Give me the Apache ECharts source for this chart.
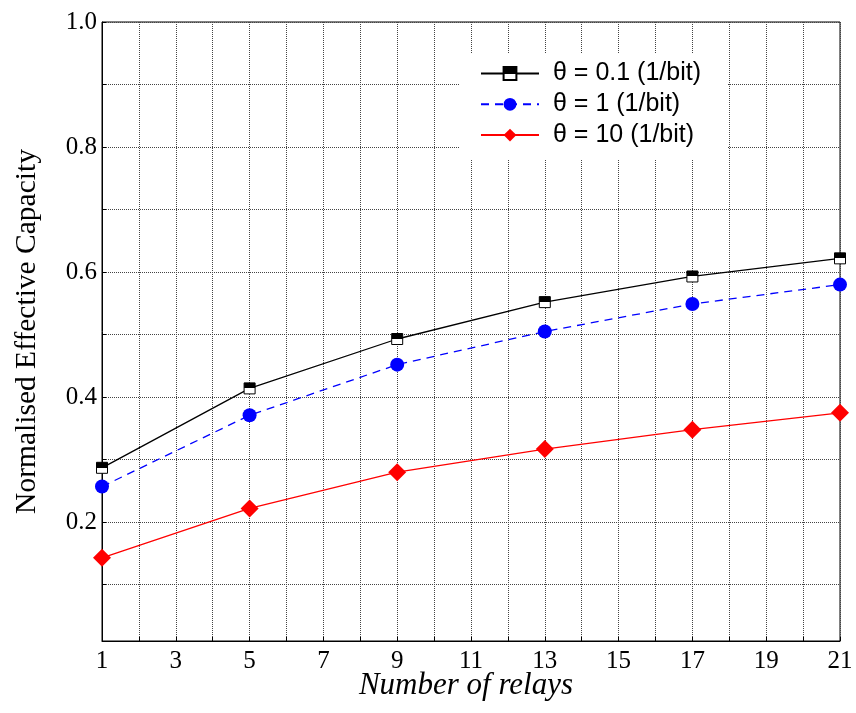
<!DOCTYPE html>
<html>
<head>
<meta charset="utf-8">
<script src="https://cdn.jsdelivr.net/npm/echarts@6/dist/echarts.min.js"></script>
<style>
  html, body { margin: 0; padding: 0; background: #fff; }
  #chart { width: 856px; height: 713px; }
</style>
</head>
<body>
<div id="chart"></div>
<script>
const relays = [1, 5, 9, 13, 17, 21]
const theta01 = [0.287, 0.414, 0.493, 0.552, 0.593, 0.622]
const theta1 = [0.257, 0.371, 0.452, 0.505, 0.549, 0.580]
const theta10 = [0.143, 0.222, 0.280, 0.317, 0.348, 0.375]
const seriesNames = ['\u03b8 = 0.1 (1/bit)', '\u03b8 = 1 (1/bit)', '\u03b8 = 10 (1/bit)']

const pairs = (ys) => relays.map((x, i) => [x, ys[i]])

const serif = 'Liberation Serif'
const gridLine = { show: true, lineStyle: { type: 'dotted', color: '#444', width: 1 } }

const chart = echarts.init(document.getElementById('chart'))

// square marker: black on top, white below
const halfSquare = {
  type: 'linear', x: 0, y: 0, x2: 0, y2: 1,
  colorStops: [
    { offset: 0, color: '#000' },
    { offset: 0.5, color: '#000' },
    { offset: 0.5, color: '#fff' },
    { offset: 1, color: '#fff' }
  ]
}

chart.setOption({
  animation: false,
  backgroundColor: '#fff',
  grid: {
    left: 102, right: 16, top: 22, bottom: 72,
    outerBoundsMode: 'none',
    show: true, borderColor: '#000', borderWidth: 1
  },
  legend: {
    left: 460, top: 53,
    orient: 'vertical',
    backgroundColor: '#fff',
    padding: [8, 27, 12, 20],
    itemWidth: 58, itemHeight: 16, itemGap: 5.8,
    textStyle: {
      fontFamily: 'Liberation Sans', fontSize: 25, lineHeight: 20, color: '#000',
      padding: [0, 0, 0, 9]
    },
    data: seriesNames
  },
  xAxis: {
    type: 'value',
    min: 1, max: 21, interval: 1,
    axisLine: { lineStyle: { color: '#000' } },
    axisTick: { inside: true, length: 4, lineStyle: { color: '#000' } },
    axisLabel: {
      margin: 8,
      fontFamily: serif, fontSize: 25, color: '#000',
      formatter: v => (v % 2 === 1 ? String(v) : '')
    },
    splitLine: gridLine,
    name: 'Number of relays',
    nameLocation: 'middle',
    nameMoveOverlap: false,
    nameGap: 29,
    nameTextStyle: { fontFamily: serif, fontStyle: 'italic', fontSize: 31, color: '#000', padding: [0, 10, 0, 0] }
  },
  yAxis: {
    type: 'value',
    min: 0.01, max: 1.0, splitNumber: 10,
    axisLine: { show: true, lineStyle: { color: '#000' } },
    axisTick: { show: true, inside: true, length: 4, lineStyle: { color: '#000' } },
    axisLabel: {
      margin: 5,
      fontFamily: serif, fontSize: 25, color: '#000',
      formatter: v => {
        const k = Math.round(v * 10)
        return (v > 0.15 && k % 2 === 0 && Math.abs(v * 10 - k) < 1e-6) ? (k / 10).toFixed(1) : ''
      }
    },
    splitLine: gridLine,
    name: 'Normalised Effective Capacity',
    nameLocation: 'middle',
    nameMoveOverlap: false,
    nameGap: 60,
    nameTextStyle: { fontFamily: serif, fontSize: 29.5, color: '#000' }
  },
  series: [
    {
      name: seriesNames[0],
      type: 'line',
      data: pairs(theta01),
      symbol: 'rect', symbolSize: 11,
      lineStyle: { color: '#000', width: 1.3 },
      itemStyle: { color: halfSquare, borderColor: '#000', borderWidth: 1 },
      z: 3
    },
    {
      name: seriesNames[1],
      type: 'line',
      data: pairs(theta1),
      symbol: 'circle', symbolSize: 14,
      lineStyle: { color: '#0000ff', width: 1.3, type: [8, 6] },
      itemStyle: { color: '#0000ff' }
    },
    {
      name: seriesNames[2],
      type: 'line',
      data: pairs(theta10),
      symbol: 'diamond', symbolSize: [18, 18],
      lineStyle: { color: '#ff0000', width: 1.3 },
      itemStyle: { color: '#ff0000' }
    }
  ]
})
</script>
</body>
</html>
